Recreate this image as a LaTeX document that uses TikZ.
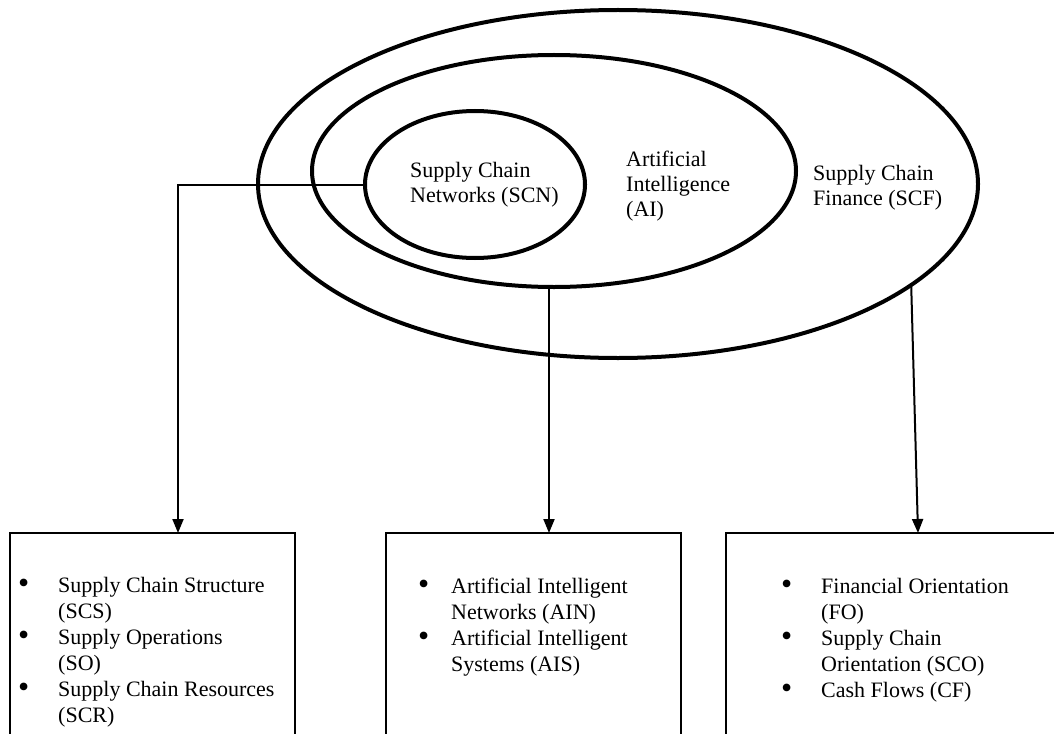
\documentclass[tikz,border=0pt]{standalone}
\usepackage{fontspec}
\setmainfont{Liberation Serif}
\usetikzlibrary{shapes.geometric,arrows.meta}
\newcommand{\bigbul}{\raisebox{-1.5pt}{\scalebox{1.45}{\textbullet}}}
\begin{document}
\begin{tikzpicture}[x=1pt,y=-1pt,
  ring/.style={ellipse, draw, line width=4pt, inner sep=0pt, outer sep=0pt},
  boxnode/.style={draw, line width=2.2pt, anchor=north west, inner sep=0pt, outer sep=0pt},
  conn/.style={line width=2pt, -{Triangle[length=14pt,width=11pt]}},
  lbl/.style={anchor=base west, inner sep=0pt, font=\fontsize{22}{25}\selectfont},
  lst/.style={anchor=base west, inner sep=0pt, font=\fontsize{22}{26}\selectfont}]
\clip (0,0) rectangle (1054,733);
\fill[white] (0,0) rectangle (1054,733);

% nested ellipses
\node[ring, minimum width=720pt, minimum height=348pt] (scf) at (618,184) {};
\node[ring, minimum width=484pt, minimum height=232pt] (ai) at (554,171) {};
\node[ring, minimum width=220pt, minimum height=147pt] (scn) at (475,184.5) {};

% ellipse labels
\node[lbl] (tscn) at (410,177) {\begin{tabular}[t]{@{}l@{}}Supply Chain\\Networks (SCN)\end{tabular}};
\node[lbl] (tai) at (626,166) {\begin{tabular}[t]{@{}l@{}}Artificial\\Intelligence\\(AI)\end{tabular}};
\node[lbl] (tscf) at (813,180) {\begin{tabular}[t]{@{}l@{}}Supply Chain\\Finance (SCF)\end{tabular}};

% boxes
\node[boxnode, minimum width=285pt, minimum height=300pt] (b1) at (10,533) {};
\node[boxnode, minimum width=295pt, minimum height=300pt] (b2) at (386,533) {};
\node[boxnode, minimum width=330pt, minimum height=300pt] (b3) at (726,533) {};

% box contents
\node[lst] (l1) at (18,592) {\begin{tabular}[t]{@{}p{40pt}@{}l@{}}
\bigbul & Supply Chain Structure\\
 & (SCS)\\
\bigbul & Supply Operations\\
 & (SO)\\
\bigbul & Supply Chain Resources\\
 & (SCR)
\end{tabular}};
\node[lst] (l2) at (418,593) {\begin{tabular}[t]{@{}p{33pt}@{}l@{}}
\bigbul & Artificial Intelligent\\
 & Networks (AIN)\\
\bigbul & Artificial Intelligent\\
 & Systems (AIS)
\end{tabular}};
\node[lst] (l3) at (781,593) {\begin{tabular}[t]{@{}p{40pt}@{}l@{}}
\bigbul & Financial Orientation\\
 & (FO)\\
\bigbul & Supply Chain\\
 & Orientation (SCO)\\
\bigbul & Cash Flows (CF)
\end{tabular}};

% connectors
\draw[conn] (scn.west) -| ([xshift=25.5pt]b1.north);
\draw[conn] ([xshift=15.5pt]b2.north |- ai.south) -- ([xshift=15.5pt]b2.north);
\draw[conn] (scf.-19) -- ([xshift=27pt]b3.north);
\end{tikzpicture}
\end{document}
